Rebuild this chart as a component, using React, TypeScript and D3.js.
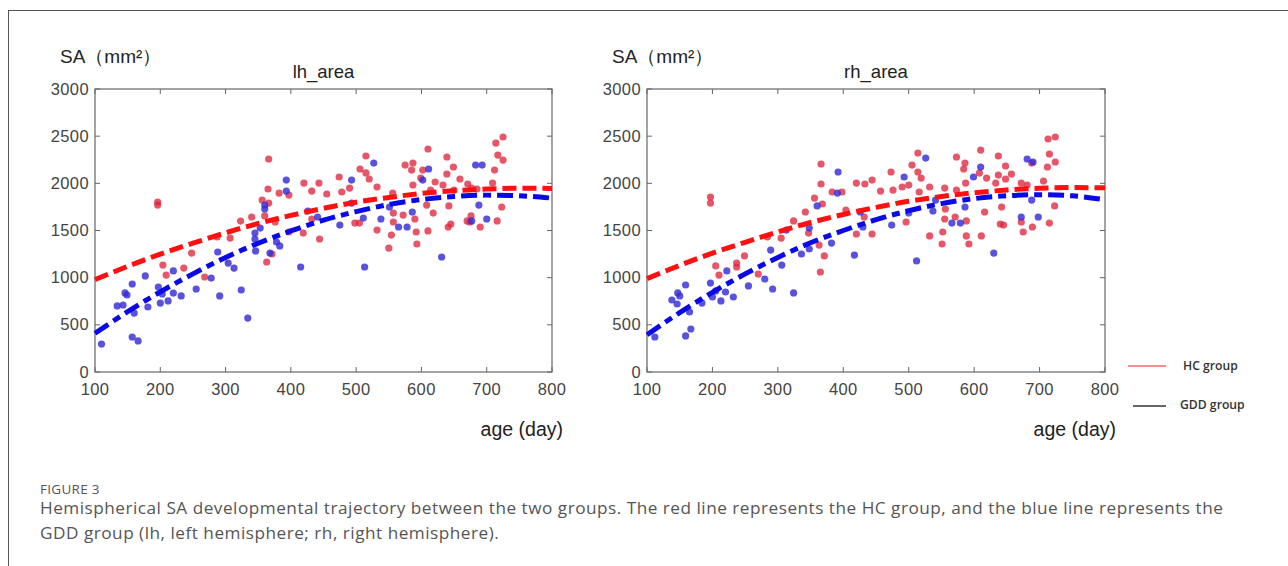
import React from "react";
import * as d3 from "d3";

// ---------- DATA ----------
const xTicks = [100, 200, 300, 400, 500, 600, 700, 800];
const yTicks = [0, 500, 1000, 1500, 2000, 2500, 3000];

const fitDays = [100, 150, 200, 250, 300, 350, 400, 450, 500, 550, 600, 650, 700, 750, 800];
const lhFitHC = [980, 1120, 1250, 1365, 1475, 1575, 1660, 1735, 1800, 1850, 1893, 1922, 1940, 1948, 1946];
const lhFitGDD = [410, 640, 850, 1040, 1215, 1365, 1495, 1610, 1700, 1775, 1828, 1860, 1875, 1868, 1843];
const rhFitHC = [990, 1130, 1260, 1375, 1485, 1585, 1670, 1745, 1810, 1860, 1900, 1930, 1948, 1955, 1952];
const rhFitGDD = [395, 630, 845, 1040, 1215, 1370, 1500, 1615, 1710, 1785, 1838, 1868, 1880, 1868, 1825];

const lhHC: [number, number][] = [
  [196, 1802], [196, 1770], [204, 1134], [209, 1028], [236, 1102], [248, 1261], [268, 1007], [287, 1431],
  [307, 1420], [323, 1600], [340, 1643], [356, 1823], [360, 1654], [363, 1166], [365, 1940], [366, 2258],
  [366, 1791], [371, 1251], [376, 1590], [382, 1897], [397, 1876], [397, 1484], [419, 1473], [420, 2003],
  [432, 1918], [432, 1622], [443, 2003], [444, 1410], [455, 1887], [474, 2067], [478, 1908], [490, 1950],
  [498, 1579], [505, 1579], [506, 2152], [515, 2290], [515, 2110], [520, 2046], [532, 1961], [532, 1505],
  [550, 1314], [554, 1452], [556, 1897], [557, 1590], [557, 1685], [572, 1664], [575, 2194], [585, 2141],
  [587, 2215], [587, 1982], [590, 1622], [592, 1484], [593, 1357], [599, 2056], [602, 2141], [608, 1770],
  [610, 2364], [610, 1495], [614, 1929], [618, 1685], [621, 2014], [633, 1982], [639, 2279], [639, 2099],
  [641, 1537], [645, 1569], [642, 1760], [649, 2173], [650, 1929], [659, 2046], [671, 1993], [670, 1601],
  [674, 1590], [676, 1654], [677, 1950], [685, 1940], [690, 1537], [709, 2003], [712, 2141], [714, 2427],
  [725, 2491], [717, 2300], [725, 2247], [716, 1601], [723, 1749],
];

const lhGDD: [number, number][] = [
  [110, 297], [157, 371], [166, 329], [134, 700], [143, 710], [146, 838], [149, 816], [157, 933],
  [160, 625], [177, 1018], [181, 689], [197, 901], [200, 731], [203, 827], [212, 753], [220, 1071],
  [220, 837], [232, 806], [255, 880], [278, 996], [288, 1272], [291, 806], [304, 1155], [313, 1102],
  [324, 869], [334, 572], [346, 1283], [345, 1473], [345, 1410], [353, 1526], [360, 1770], [360, 1728],
  [368, 1261], [378, 1378], [383, 1336], [393, 2035], [393, 1918], [415, 1113], [426, 1706], [441, 1643],
  [475, 1558], [493, 2035], [493, 1791], [511, 1632], [513, 1113], [527, 2215], [538, 1622], [551, 1749],
  [565, 1537], [578, 1537], [586, 1696], [602, 2035], [611, 2152], [631, 1219], [677, 1601], [683, 2194],
  [693, 2194], [688, 1770], [700, 1622],
];

const rhHC: [number, number][] = [
  [197, 1855], [197, 1791], [205, 1124], [210, 1028], [237, 1155], [237, 1113], [249, 1230], [270, 1039],
  [284, 1431], [305, 1420], [324, 1601], [342, 1696], [347, 1473], [356, 1844], [363, 1346], [365, 1060],
  [366, 2205], [366, 1993], [368, 1781], [371, 1230], [383, 1908], [398, 1908], [404, 1717], [420, 2003],
  [420, 1463], [432, 1643], [433, 1993], [444, 2035], [444, 1463], [457, 1918], [473, 2120], [476, 1929],
  [490, 1961], [496, 1590], [500, 1982], [505, 2194], [514, 2321], [514, 2120], [516, 1908], [519, 2056],
  [532, 1961], [532, 1442], [551, 1357], [552, 1484], [555, 1622], [556, 1728], [555, 1950], [571, 1643],
  [573, 2279], [573, 1929], [584, 2152], [586, 2215], [587, 2003], [588, 1601], [588, 1442], [592, 1357],
  [608, 2109], [610, 2353], [611, 1442], [616, 1696], [619, 2056], [633, 2003], [637, 2290], [637, 2088],
  [640, 1569], [645, 1558], [642, 1749], [648, 2184], [648, 2046], [657, 2099], [672, 2003], [672, 1590],
  [675, 1484], [681, 1982], [688, 2215], [689, 1537], [706, 2025], [712, 2173], [713, 2470], [715, 2311],
  [715, 1579], [723, 1760], [724, 2491], [724, 2226],
];

const rhGDD: [number, number][] = [
  [112, 371], [159, 382], [167, 456], [138, 763], [146, 721], [147, 838], [150, 806], [159, 922],
  [165, 636], [184, 731], [197, 943], [200, 795], [205, 859], [213, 753], [220, 848], [222, 1071],
  [232, 795], [255, 912], [280, 986], [289, 1293], [292, 880], [306, 1134], [313, 1505], [324, 838],
  [336, 1251], [348, 1526], [348, 1304], [360, 1760], [382, 1367], [391, 1897], [392, 2120], [417, 1240],
  [426, 1696], [430, 1537], [474, 1558], [493, 2067], [500, 1685], [512, 1177], [526, 2268], [537, 1706],
  [541, 1823], [566, 1579], [579, 1579], [586, 1749], [599, 2067], [610, 2173], [630, 1261], [672, 1643],
  [681, 2258], [690, 2226], [688, 1823], [698, 1643],
];

const panelTitles = ["lh_area", "rh_area"];
const yLabel = "SA（mm²）";
const xLabel = "age (day)";
const legendLabels = ["HC group", "GDD group"];
const figureLabel = "FIGURE 3";
const captionLines = [
  "Hemispherical SA developmental trajectory between the two groups. The red line represents the HC group, and the blue line represents the",
  "GDD group (lh, left hemisphere; rh, right hemisphere).",
];

// ---------- CHART ----------
const tickFont = "'Liberation Sans', Arial, sans-serif";

type PanelProps = {
  x0: number;
  x1: number;
  title: string;
  hc: [number, number][];
  gdd: [number, number][];
  fitHC: number[];
  fitGDD: number[];
};

const yScale = d3.scaleLinear().domain([0, 3000]).range([372, 89]);

function Panel({ x0, x1, title, hc, gdd, fitHC, fitGDD }: PanelProps) {
  const x = d3.scaleLinear().domain([100, 800]).range([x0, x1]);
  const y = yScale;
  const line = d3
    .line<[number, number]>()
    .x((d) => x(d[0]))
    .y((d) => y(d[1]))
    .curve(d3.curveMonotoneX);
  const hcPath = line(fitDays.map((d, i) => [d, fitHC[i]] as [number, number])) || "";
  const gddPath = line(fitDays.map((d, i) => [d, fitGDD[i]] as [number, number])) || "";
  const top = y(3000);
  const bot = y(0);
  const axisColor = "#666";
  const tl = 5;
  return (
    <g>
      <rect x={x0} y={top} width={x1 - x0} height={bot - top} fill="#fff" stroke={axisColor} strokeWidth={1.2} />
      {xTicks.map((t) => (
        <g key={"xt" + t}>
          <line x1={x(t)} x2={x(t)} y1={bot} y2={bot - tl} stroke={axisColor} />
          <line x1={x(t)} x2={x(t)} y1={top} y2={top + tl} stroke={axisColor} />
          <text x={x(t)} y={bot + 23} textAnchor="middle" fontFamily={tickFont} fontSize={16.5} letterSpacing={0.4} fill="#444">
            {t}
          </text>
        </g>
      ))}
      {yTicks.map((t) => (
        <g key={"yt" + t}>
          <line x1={x0} x2={x0 + tl} y1={y(t)} y2={y(t)} stroke={axisColor} />
          <line x1={x1} x2={x1 - tl} y1={y(t)} y2={y(t)} stroke={axisColor} />
          <text x={x0 - 6} y={y(t) + 5.5} textAnchor="end" fontFamily={tickFont} fontSize={16.5} letterSpacing={0.4} fill="#444">
            {t}
          </text>
        </g>
      ))}
      {hc.map((p, i) => (
        <circle key={"h" + i} cx={x(p[0])} cy={y(p[1])} r={3.6} fill="rgb(222,40,62)" fillOpacity={0.78} />
      ))}
      {gdd.map((p, i) => (
        <circle key={"g" + i} cx={x(p[0])} cy={y(p[1])} r={3.6} fill="rgb(52,44,214)" fillOpacity={0.82} />
      ))}
      <path d={hcPath} fill="none" stroke="#ff1010" strokeWidth={5} strokeDasharray="14 6" />
      <path d={gddPath} fill="none" stroke="#0a0ae6" strokeWidth={5} strokeDasharray="16 6 8 6" />
      <text x={(x0 + x1) / 2} y={78} textAnchor="middle" fontFamily={tickFont} fontSize={18.5} fill="#222">
        {title}
      </text>
      <text x={x0 - 35} y={63} fontFamily={tickFont} fontSize={19} fill="#222">
        {yLabel}
      </text>
      <text x={x1 + 11} y={436} textAnchor="end" fontFamily={tickFont} fontSize={19.5} fill="#222">
        {xLabel}
      </text>
    </g>
  );
}

export default function App() {
  return (
    <svg
      width={1288}
      height={566}
      style={{ position: "absolute", left: 0, top: 0, background: "#fff" }}
      xmlns="http://www.w3.org/2000/svg"
    >
      <rect x={0} y={0} width={1288} height={566} fill="#fff" />
      <rect x={8.5} y={10.5} width={1300} height={600} fill="none" stroke="#555" strokeWidth={1} />
      <Panel x0={95} x1={552} title={panelTitles[0]} hc={lhHC} gdd={lhGDD} fitHC={lhFitHC} fitGDD={lhFitGDD} />
      <Panel x0={647} x1={1105} title={panelTitles[1]} hc={rhHC} gdd={rhGDD} fitHC={rhFitHC} fitGDD={rhFitGDD} />
      {/* legend */}
      <line x1={1128} x2={1166} y1={366} y2={366} stroke="#f06a6a" strokeWidth={1.5} />
      <text x={1183} y={370} fontFamily="'Open Sans', sans-serif" fontWeight={600} fontSize={12.2} fill="#333">
        {legendLabels[0]}
      </text>
      <line x1={1133} x2={1166} y1={406} y2={406} stroke="#334" strokeWidth={1.3} />
      <text x={1180} y={409} fontFamily="'Open Sans', sans-serif" fontWeight={600} fontSize={12.2} fill="#333">
        {legendLabels[1]}
      </text>
      {/* caption */}
      <text x={40} y={494} fontFamily="'Open Sans', sans-serif" fontSize={13.5} letterSpacing={0.3} fill="#555">
        {figureLabel}
      </text>
      {captionLines.map((l, i) => (
        <text key={i} x={40} y={514 + i * 25} fontFamily="'Open Sans', sans-serif" fontSize={17.2} letterSpacing={0.5} fill="#555">
          {l}
        </text>
      ))}
    </svg>
  );
}
